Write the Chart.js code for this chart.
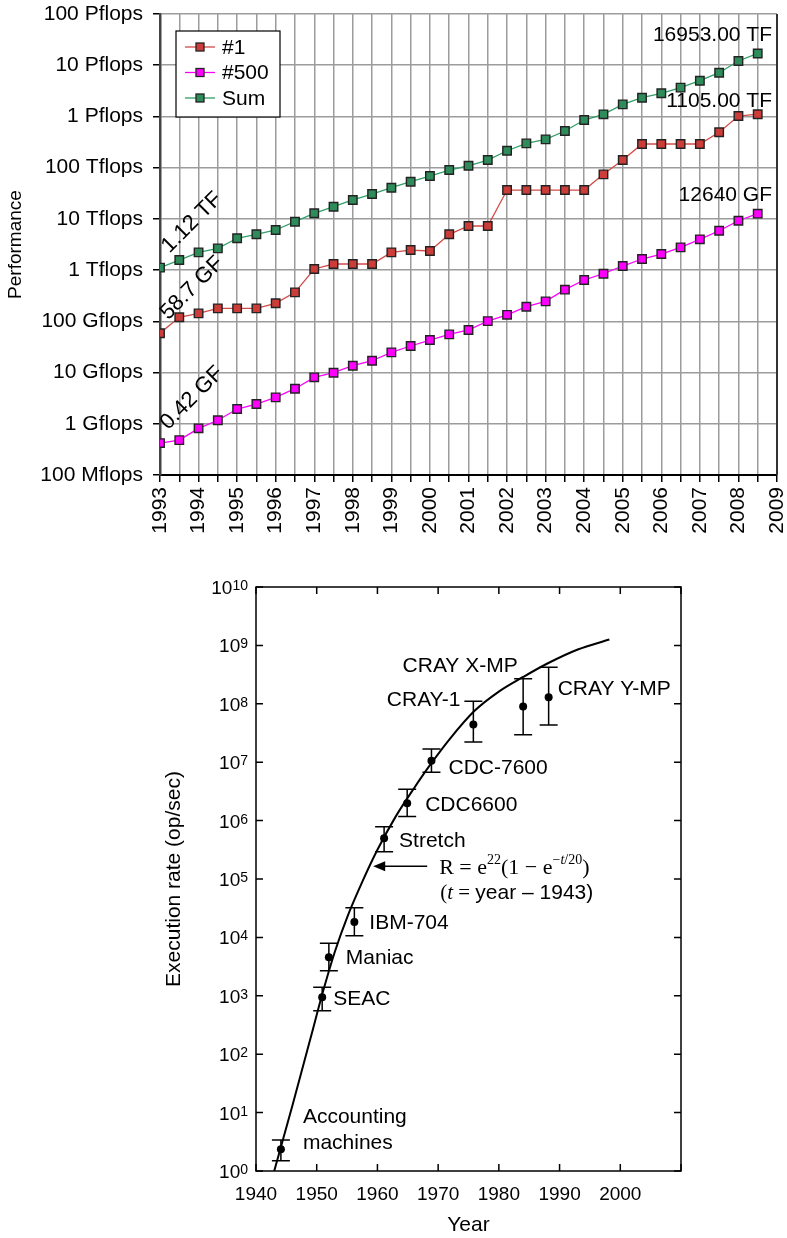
<!DOCTYPE html>
<html>
<head>
<meta charset="utf-8">
<script src="https://cdn.jsdelivr.net/npm/chart.js@4.4.0/dist/chart.umd.min.js"></script>
<style>
  html, body { margin: 0; padding: 0; background: #fff; }
  #box1 { position: absolute; left: 0; top: 0; width: 787px; height: 560px; }
  #box2 { position: absolute; left: 0; top: 560px; width: 787px; height: 678px; }
</style>
</head>
<body>
<div id="box1"><canvas id="chart1" width="787" height="560"></canvas></div>
<div id="box2"><canvas id="chart2" width="787" height="678"></canvas></div>
<script>
const sans = '"Liberation Sans", Arial, Helvetica, sans-serif';
const serif = '"Liberation Serif", "Times New Roman", serif';

/* TOP500 lists, values in Gflops */
const years = [1993, 1993.5, 1994, 1994.5, 1995, 1995.5, 1996, 1996.5, 1997, 1997.5, 1998, 1998.5,
  1999, 1999.5, 2000, 2000.5, 2001, 2001.5, 2002, 2002.5, 2003, 2003.5, 2004, 2004.5,
  2005, 2005.5, 2006, 2006.5, 2007, 2007.5, 2008, 2008.5];
const rank1 = [58.7, 120, 143, 179, 179, 179, 225, 368, 1052, 1316, 1316, 1316,
  2222, 2466, 2360, 5000, 7260, 7260, 36600, 36600, 36600, 36600, 36600, 74100,
  141000, 290000, 290000, 290000, 290000, 490000, 1020000, 1105000];
const rank500 = [0.42, 0.48, 0.815, 1.17, 1.94, 2.43, 3.28, 4.84, 8.07, 9.93, 13.6, 17.0,
  24.8, 33.0, 43.2, 55.7, 67.8, 101, 134, 193, 245, 415, 641, 851,
  1202, 1648, 2061, 2780, 3990, 5870, 9200, 12640];
const sumPerf = [1120, 1574, 2223, 2660, 4180, 5000, 6070, 8810, 12850, 17300, 23400, 30600,
  40600, 53200, 68700, 89900, 109000, 141000, 214000, 298000, 357000, 520000, 851000, 1100000,
  1720000, 2320000, 2830000, 3650000, 4990000, 7140000, 12100000, 16953000];
const seriesNames = ['#1', '#500', 'Sum'];
const firstLabels = ['58.7 GF', '0.42 GF', '1.12 TF'];
const lastLabels = ['1105.00 TF', '12640 GF', '16953.00 TF'];
const perfTicks = [0.1, 1, 10, 100, 1e3, 1e4, 1e5, 1e6, 1e7, 1e8];
const perfTickLabels = ['100 Mflops', '1 Gflops', '10 Gflops', '100 Gflops', '1 Tflops',
  '10 Tflops', '100 Tflops', '1 Pflops', '10 Pflops', '100 Pflops'];
const yearTicks = [1993, 1993.5, 1994, 1994.5, 1995, 1995.5, 1996, 1996.5, 1997, 1997.5, 1998, 1998.5,
  1999, 1999.5, 2000, 2000.5, 2001, 2001.5, 2002, 2002.5, 2003, 2003.5, 2004, 2004.5,
  2005, 2005.5, 2006, 2006.5, 2007, 2007.5, 2008, 2008.5, 2009];

/* execution rate of machines (op/sec) */
const machines = ['Accounting|machines', 'SEAC', 'Maniac', 'IBM-704', 'Stretch', 'CDC6600',
  'CDC-7600', 'CRAY-1', 'CRAY X-MP', 'CRAY Y-MP'];
const machineYear = [1944.1, 1950.9, 1952.0, 1956.2, 1961.1, 1964.9, 1968.9, 1975.8, 1984.0, 1988.2];
const machineRate = [2.35, 942, 4560, 18370, 4.98e5, 1.98e6, 1.06e7, 4.44e7, 9.0e7, 1.3e8];
const rateLow = [1.5, 556, 2690, 10720, 2.94e5, 1.17e6, 6.71e6, 2.21e7, 2.95e7, 4.34e7];
const rateHigh = [3.4, 1400, 7925, 32280, 7.87e5, 3.44e6, 1.68e7, 1.11e8, 2.68e8, 4.24e8];
const curveYear = [1943.0, 1946.0, 1949.0, 1951.0, 1953.0, 1955.0, 1957.5, 1960.0, 1963.0,
  1966.0, 1969.0, 1972.0, 1976.0, 1980.0, 1984.0, 1988.0, 1993.0, 1998.2];
const curveRate = [1, 13.2, 191, 1150, 5750, 21900, 89100, 316000, 1.17e6,
  3.55e6, 1.0e7, 2.57e7, 7.59e7, 1.62e8, 2.88e8, 4.9e8, 8.51e8, 1.26e9];
const rateTicks = [1, 10, 100, 1e3, 1e4, 1e5, 1e6, 1e7, 1e8, 1e9, 1e10];
const rateExp = ['0', '1', '2', '3', '4', '5', '6', '7', '8', '9', '10'];
const decadeTicks = [1940, 1950, 1960, 1970, 1980, 1990, 2000, 2010];

let pts = (xs, ys) => xs.map((x, i) => ({ x: x, y: ys[i] }));

/* ---------- top chart ---------- */
const lastDy = [-13, -18, -18];

const topDecor = {
  id: 'topDecor',
  afterDatasetsDraw(chart) {
    const c = chart.ctx, a = chart.chartArea;
    const xs = chart.scales.x, ys = chart.scales.y;
    c.save();
    c.strokeStyle = '#333';
    c.lineWidth = 2;
    c.beginPath();
    c.moveTo(a.right, a.top);
    c.lineTo(a.right, a.bottom);
    c.stroke();

    c.fillStyle = '#000';
    chart.data.datasets.forEach((ds, i) => {
      const p = ds.data[0];
      c.save();
      c.font = '22px ' + sans;
      c.translate(xs.getPixelForValue(p.x) + 32, ys.getPixelForValue(p.y) - 45);
      c.rotate(-Math.PI / 4);
      c.textAlign = 'center';
      c.textBaseline = 'middle';
      c.fillText(firstLabels[i], 0, 0);
      c.restore();
      const q = ds.data[ds.data.length - 1];
      c.font = '21px ' + sans;
      c.textAlign = 'right';
      c.textBaseline = 'middle';
      c.fillText(lastLabels[i], a.right - 5, ys.getPixelForValue(q.y) + lastDy[i]);
    });

    // legend box
    const lx = a.left + 16, ly = a.top + 17;
    c.fillStyle = '#fff';
    c.fillRect(lx, ly, 104, 86);
    c.strokeStyle = '#000';
    c.lineWidth = 1.2;
    c.strokeRect(lx, ly, 104, 86);
    chart.data.datasets.forEach((ds, i) => {
      const y = ly + 16 + i * 25.5;
      c.strokeStyle = ds.borderColor;
      c.lineWidth = 1.3;
      c.beginPath();
      c.moveTo(lx + 9, y);
      c.lineTo(lx + 39, y);
      c.stroke();
      c.fillStyle = ds.pointBackgroundColor;
      c.fillRect(lx + 20, y - 4, 8, 8);
      c.strokeStyle = '#222';
      c.strokeRect(lx + 20, y - 4, 8, 8);
      c.fillStyle = '#000';
      c.font = '21px ' + sans;
      c.textAlign = 'left';
      c.textBaseline = 'middle';
      c.fillText(seriesNames[i], lx + 46, y + 1);
    });
    c.restore();
  }
};

let seriesStyle = (line, fill) => ({
  borderColor: line,
  borderWidth: 1.3,
  pointStyle: 'rect',
  pointRadius: 6,
  pointBackgroundColor: fill,
  pointBorderColor: '#222',
  pointBorderWidth: 1.4,
  fill: false,
  tension: 0
});

new Chart(document.getElementById('chart1'), {
  type: 'line',
  data: {
    datasets: [
      Object.assign({ label: seriesNames[0], data: pts(years, rank1) }, seriesStyle('#d34b47', '#cc3d3a')),
      Object.assign({ label: seriesNames[1], data: pts(years, rank500) }, seriesStyle('#ff00ff', '#ff00ff')),
      Object.assign({ label: seriesNames[2], data: pts(years, sumPerf) }, seriesStyle('#30a068', '#2e8b5a'))
    ]
  },
  options: {
    responsive: false,
    animation: false,
    layout: { padding: { top: 14, right: 10, left: 0, bottom: 0 } },
    plugins: { legend: { display: false }, tooltip: { enabled: false } },
    scales: {
      x: {
        type: 'linear', min: 1993, max: 2009,
        afterBuildTicks: s => { s.ticks = yearTicks.map(v => ({ value: v })); },
        afterFit: s => { s.height = 85; s.paddingLeft = 0; s.paddingRight = 0; },
        ticks: {
          autoSkip: false, maxRotation: 90, minRotation: 90, padding: 5,
          color: '#000', font: { family: sans, size: 21 },
          callback: v => Number.isInteger(v) ? String(v) : ''
        },
        grid: { color: '#9c9c9c', lineWidth: 1.5, tickColor: '#000', tickLength: 7, tickWidth: 1.5 },
        border: { color: '#000', width: 2 }
      },
      y: {
        type: 'logarithmic', min: 0.1, max: 1e8,
        afterBuildTicks: s => { s.ticks = perfTicks.map(v => ({ value: v })); },
        afterFit: s => { s.width = 160; s.paddingTop = 0; s.paddingBottom = 0; },
        ticks: {
          padding: 10, color: '#000', font: { family: sans, size: 21 },
          callback: v => perfTickLabels[perfTicks.indexOf(v)]
        },
        grid: { color: '#9c9c9c', lineWidth: 1.5, tickColor: '#000', tickLength: 7, tickWidth: 1.5 },
        border: { color: '#444', width: 2.5 },
        title: { display: true, text: 'Performance', color: '#000', font: { family: sans, size: 19 } }
      }
    }
  },
  plugins: [topDecor]
});

/* ---------- bottom chart ---------- */
const labelPos = [[22, -32, 'left'], [11, 2, 'left'], [17, 1, 'left'], [15, 1, 'left'], [15, 3, 'left'],
  [18, 2, 'left'], [17, 7, 'left'], [-13, -24, 'right'], [-63, -40, 'center'], [9, -8, 'left']];

let drawRich = (c, x, y, parts) => {
  parts.forEach(p => {
    c.font = p.f;
    c.fillText(p.t, x, y + (p.dy || 0));
    x += c.measureText(p.t).width;
  });
};

const bottomDecor = {
  id: 'bottomDecor',
  beforeDatasetsDraw(chart) {
    const c = chart.ctx, xs = chart.scales.x, ys = chart.scales.y;
    c.save();
    c.strokeStyle = '#000';
    c.lineWidth = 1.5;
    machineYear.forEach((yr, i) => {
      const x = xs.getPixelForValue(yr);
      const y1 = ys.getPixelForValue(rateLow[i]), y2 = ys.getPixelForValue(rateHigh[i]);
      c.beginPath();
      c.moveTo(x, y1); c.lineTo(x, y2);
      c.moveTo(x - 9, y1); c.lineTo(x + 9, y1);
      c.moveTo(x - 9, y2); c.lineTo(x + 9, y2);
      c.stroke();
    });
    c.restore();
  },
  afterDraw(chart) {
    const c = chart.ctx, a = chart.chartArea, xs = chart.scales.x, ys = chart.scales.y;
    c.save();
    // frame and inward ticks
    c.strokeStyle = '#000';
    c.lineWidth = 1.5;
    c.strokeRect(a.left, a.top, a.right - a.left, a.bottom - a.top);
    c.beginPath();
    decadeTicks.forEach(v => {
      const x = xs.getPixelForValue(v);
      c.moveTo(x, a.bottom); c.lineTo(x, a.bottom - 7);
      c.moveTo(x, a.top); c.lineTo(x, a.top + 7);
    });
    rateTicks.forEach(v => {
      const y = ys.getPixelForValue(v);
      c.moveTo(a.left, y); c.lineTo(a.left + 7, y);
      c.moveTo(a.right, y); c.lineTo(a.right - 7, y);
    });
    c.stroke();

    // y tick labels 10^n
    c.fillStyle = '#000';
    c.textAlign = 'left';
    c.textBaseline = 'alphabetic';
    rateTicks.forEach((v, i) => {
      const y = ys.getPixelForValue(v);
      c.font = '14px ' + sans;
      const we = c.measureText(rateExp[i]).width;
      c.font = '19px ' + sans;
      const wb = c.measureText('10').width;
      const x0 = a.left - 8 - we - wb;
      c.fillText('10', x0, y + 7);
      c.font = '14px ' + sans;
      c.fillText(rateExp[i], x0 + wb, y + 3);
    });

    // machine names
    c.font = '21px ' + sans;
    c.textBaseline = 'middle';
    machines.forEach((m, i) => {
      const x = xs.getPixelForValue(machineYear[i]) + labelPos[i][0];
      const y = ys.getPixelForValue(machineRate[i]) + labelPos[i][1];
      c.textAlign = labelPos[i][2];
      m.split('|').forEach((line, k) => c.fillText(line, x, y + k * 26));
    });

    // arrow to the curve and the formula
    const tx = xs.getPixelForValue(1959.3), ty = ys.getPixelForValue(1.66e5);
    c.lineWidth = 1.5;
    c.beginPath();
    c.moveTo(tx + 8, ty); c.lineTo(tx + 54, ty);
    c.stroke();
    c.beginPath();
    c.moveTo(tx, ty); c.lineTo(tx + 12, ty - 5); c.lineTo(tx + 12, ty + 5);
    c.closePath();
    c.fill();

    c.textAlign = 'left';
    drawRich(c, tx + 66, ty + 2, [
      { t: 'R = e', f: '22px ' + serif },
      { t: '22', f: '14px ' + serif, dy: -8 },
      { t: '(1 \u2212 e', f: '22px ' + serif },
      { t: '\u2212', f: '14px ' + serif, dy: -8 },
      { t: 't', f: 'italic 14px ' + serif, dy: -8 },
      { t: '/20', f: '14px ' + serif, dy: -8 },
      { t: ')', f: '22px ' + serif }
    ]);
    drawRich(c, tx + 67, ty + 27, [
      { t: '(', f: '21px ' + serif },
      { t: 't', f: 'italic 21px ' + serif },
      { t: ' = ', f: '21px ' + serif },
      { t: 'year \u2013 1943)', f: '21px ' + sans }
    ]);
    c.restore();
  }
};

new Chart(document.getElementById('chart2'), {
  type: 'scatter',
  data: {
    datasets: [
      {
        label: 'machines',
        data: pts(machineYear, machineRate),
        pointRadius: 4,
        pointBackgroundColor: '#000',
        pointBorderWidth: 0,
        showLine: false
      },
      {
        label: 'fit',
        data: pts(curveYear, curveRate),
        showLine: true,
        borderColor: '#000',
        borderWidth: 2,
        pointRadius: 0,
        cubicInterpolationMode: 'monotone'
      }
    ]
  },
  options: {
    responsive: false,
    animation: false,
    layout: { padding: { top: 27, right: 106, left: 150, bottom: 0 } },
    plugins: { legend: { display: false }, tooltip: { enabled: false } },
    scales: {
      x: {
        type: 'linear', min: 1940, max: 2010,
        afterBuildTicks: s => { s.ticks = decadeTicks.map(v => ({ value: v })); },
        afterFit: s => { s.height = 67; s.paddingLeft = 0; s.paddingRight = 0; },
        ticks: {
          autoSkip: false, maxRotation: 0, padding: 12, color: '#000',
          font: { family: sans, size: 19 },
          callback: v => v < 2010 ? String(v) : ''
        },
        grid: { display: false, drawTicks: false },
        border: { display: false },
        title: { display: true, text: 'Year', color: '#000', font: { family: sans, size: 21 }, padding: 0 }
      },
      y: {
        type: 'logarithmic', min: 1, max: 1e10,
        afterBuildTicks: s => { s.ticks = rateTicks.map(v => ({ value: v })); },
        afterFit: s => { s.width = 106; s.paddingTop = 0; s.paddingBottom = 0; },
        ticks: { display: false },
        grid: { display: false, drawTicks: false },
        border: { display: false },
        title: {
          display: true, text: 'Execution rate (op/sec)', color: '#000',
          font: { family: sans, size: 21 }, padding: { top: 12, bottom: 0 }
        }
      }
    }
  },
  plugins: [bottomDecor]
});
</script>
</body>
</html>
